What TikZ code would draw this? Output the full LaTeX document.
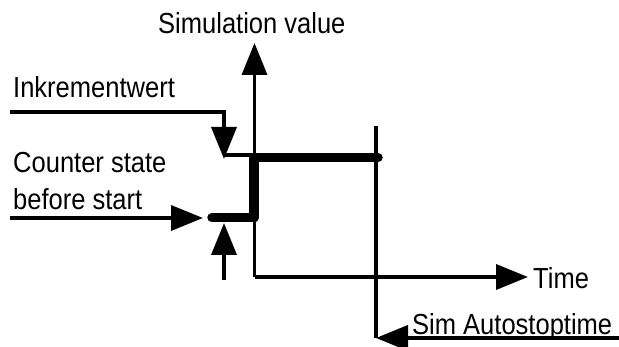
\documentclass[tikz,border=0pt]{standalone}
\usepackage{fontspec}
\setmainfont[FakeStretch=0.88]{Liberation Sans}
\usetikzlibrary{arrows.meta}
\begin{document}
\begin{tikzpicture}[x=1pt,y=-1pt,
  thinln/.style={line width=3.6pt},
  thickln/.style={line width=9.5pt,line cap=round},
  stopln/.style={line width=4pt},
  arr/.style={-{Triangle[length=32pt,width=25pt]}},
  lbl/.style={anchor=base west,inner sep=0pt,font=\fontsize{29}{32}\selectfont}]
\useasboundingbox (0,0) rectangle (619,347);
% coordinates
\coordinate (o) at (254.5,277);
\coordinate (ytip) at (254.5,43);
\coordinate (xtip) at (528,277);
\coordinate (thin0) at (224,155);
\coordinate (thin1) at (254,155);
\coordinate (hi0) at (254,157.5);
\coordinate (hi1) at (378,157.5);
\coordinate (lo0) at (212,217.7);
\coordinate (lo1) at (254,217.7);
\coordinate (ink0) at (10,112);
\coordinate (ink1) at (224,112);
\coordinate (inktip) at (224,159);
\coordinate (cs0) at (10,218);
\coordinate (cstip) at (203,218);
\coordinate (up0) at (224,280);
\coordinate (uptip) at (224,223);
\coordinate (st0) at (376,126);
\coordinate (st1) at (376,338);
\coordinate (sa0) at (619,338);
% labels
\node[lbl] (simval) at (158,34) {Simulation value};
\node[lbl] (ink) at (13,98) {Inkrementwert};
\node[lbl] (cs1) at (13,173) {Counter state};
\node[lbl] (cs2) at (13,210) {before start};
\node[lbl] (time) at (533,289) {Time};
\node[lbl] (sat) at (412,335) {Sim Autostoptime};
% axes
\draw[thinln,arr] (o) -- (ytip);
\draw[thinln,arr] (o) -- (xtip);
% signal
\draw[thinln] (thin0) -- (thin1);
\draw[thickln] (hi0) -- (hi1);
\draw[thickln] (hi0) -- (lo1);
\draw[thickln] (lo0) -- (lo1);
% input arrows
\draw[thinln,arr] (ink0) -- (ink1) -- (inktip);
\draw[thinln,arr] (cs0) -- (cstip);
\draw[thinln,arr] (up0) -- (uptip);
% autostop
\draw[stopln] (st0) -- (st1);
\draw[stopln,arr] (sa0) -- (st1);
\end{tikzpicture}
\end{document}
